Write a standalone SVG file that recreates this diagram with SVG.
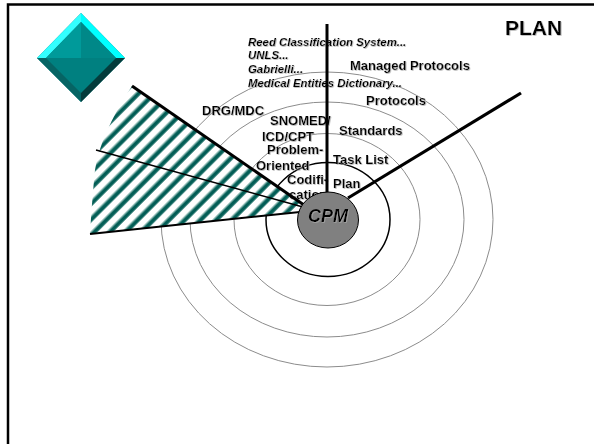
<svg xmlns="http://www.w3.org/2000/svg" width="594" height="444" viewBox="0 0 594 444">
<style>
.t{font-family:"Liberation Sans",Arial,sans-serif;font-weight:bold;font-size:13px;fill:#000;filter:url(#sh)}
.i{font-style:italic;font-size:11.4px}
.r{fill:none;stroke:#8c8c8c;stroke-width:1}
.h{stroke:#000;fill:none}
</style>
<defs>
<filter id="sh" x="-5%" y="-10%" width="110%" height="125%"><feDropShadow dx="0.7" dy="0.7" stdDeviation="0.25" flood-color="#aaa"/></filter>
<pattern id="hatch" width="11.1" height="11.1" patternUnits="userSpaceOnUse" patternTransform="rotate(-45)">
<rect width="11.1" height="11.1" fill="#fff"/>
<rect y="5.6" width="11.1" height="5.5" fill="#a5c8c3"/>
<rect y="6.9" width="11.1" height="3.8" fill="#035e56"/>
</pattern>
</defs>
<rect width="594" height="444" fill="#fff"/>
<g id="frame"><path d="M8 444V4.5H594" fill="none" stroke="#000" stroke-width="2.5"/></g>
<g id="diamond">
<polygon points="81,13 125,58 81,102 37,58" fill="#008080"/>
<polygon points="37,58 81,13 81,22 46,58" fill="#33ffff"/>
<polygon points="81,13 125,58 116,58 81,22" fill="#00ffff"/>
<polygon points="37,58 46,58 81,93 81,102" fill="#066464"/>
<polygon points="125,58 116,58 81,93 81,102" fill="#043c3c"/>
<polygon points="46,58 81,22 81,58" fill="#009a9a"/>
<polygon points="116,58 81,22 81,58" fill="#008888"/>
</g>
<g id="rings">
<ellipse class="r" cx="327" cy="219.5" rx="166" ry="147.5"/>
<ellipse class="r" cx="327" cy="219.5" rx="137" ry="117.5"/>
<ellipse class="r" cx="327" cy="219.5" rx="93" ry="86"/>
<ellipse cx="328" cy="219.5" rx="62" ry="57" fill="none" stroke="#000" stroke-width="1.5"/>
</g>
<g id="sector"><path d="M132 86Q100 135 95 170Q92 200 90 234L304 211L303 204Z" fill="url(#hatch)"/></g>
<g id="labels">
<text class="t i" x="248" y="46">Reed Classification System...</text>
<text class="t i" x="248" y="59">UNLS...</text>
<text class="t i" x="248" y="73">Gabrielli...</text>
<text class="t i" x="248" y="87">Medical Entities Dictionary...</text>
<text class="t" x="350" y="70">Managed Protocols</text>
<text class="t" x="366" y="105">Protocols</text>
<text class="t" x="202" y="115">DRG/MDC</text>
<text class="t" x="270" y="125">SNOMED/</text>
<text class="t" x="262" y="141">ICD/CPT</text>
<text class="t" x="267" y="154">Problem-</text>
<text class="t" x="256" y="170">Oriented</text>
<text class="t" x="287" y="184">Codifi-</text>
<text class="t" x="289" y="199">cation</text>
<text class="t" x="339" y="135">Standards</text>
<text class="t" x="333" y="164">Task List</text>
<text class="t" x="333" y="188">Plan</text>
<text class="t" x="505" y="35" style="font-size:21px">PLAN</text>
</g>
<g id="connectors">
<path class="h" stroke-width="3" d="M132 86L304 205"/>
<path class="h" stroke-width="1.5" d="M96 150L303 207"/>
<path class="h" stroke-width="2" d="M90 234L300 212"/>
<path class="h" stroke-width="3" d="M327 24V194"/>
<path class="h" stroke-width="3.2" d="M348 198L521 93"/>
</g>
<g id="cpm"><ellipse cx="328" cy="220" rx="30.5" ry="28" fill="#808080" stroke="#000" stroke-width="1"/>
<text class="t" x="328" y="222" text-anchor="middle" style="font-style:italic;font-size:18px">CPM</text></g>
</svg>
